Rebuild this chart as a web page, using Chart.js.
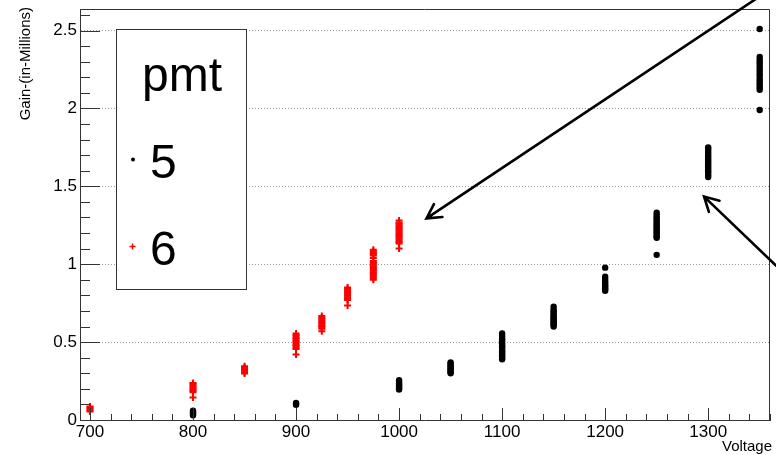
<!DOCTYPE html>
<html>
<head>
<meta charset="utf-8">
<script src="https://cdn.jsdelivr.net/npm/chart.js@4.4.0/dist/chart.umd.min.js"></script>
<style>
  html, body { margin: 0; padding: 0; background: #fff; }
  canvas { display: block; }
</style>
</head>
<body>
<canvas id="gainChart" width="776" height="455"></canvas>
<script>
// pmt 5 (black dots): one list of gains per voltage
const voltages5 = [800, 900, 1000, 1050, 1100, 1150, 1200, 1250, 1300, 1350];
const gains5 = [
    [0.030, 0.038, 0.045, 0.052, 0.060],
    [0.098, 0.104, 0.110],
    [0.195, 0.203, 0.212, 0.218, 0.226, 0.235, 0.244, 0.255],
    [0.300, 0.308, 0.316, 0.325, 0.333, 0.342, 0.352, 0.361, 0.370],
    [0.390, 0.398, 0.406, 0.415, 0.424, 0.433, 0.441, 0.450, 0.462, 0.471, 0.482, 0.493, 0.505, 0.516, 0.527, 0.540, 0.555],
    [0.600, 0.609, 0.618, 0.628, 0.637, 0.645, 0.655, 0.664, 0.675, 0.686, 0.697, 0.710, 0.728],
    [0.830, 0.838, 0.846, 0.855, 0.864, 0.873, 0.882, 0.892, 0.905, 0.920, 0.978],
    [1.060, 1.170, 1.180, 1.192, 1.203, 1.215, 1.226, 1.238, 1.250, 1.262, 1.275, 1.288, 1.300, 1.315, 1.330],
    [1.560, 1.572, 1.585, 1.597, 1.610, 1.622, 1.635, 1.648, 1.660, 1.673, 1.686, 1.700, 1.713, 1.727, 1.740, 1.750],
    [1.990, 2.120, 2.135, 2.150, 2.165, 2.180, 2.195, 2.212, 2.228, 2.245, 2.262, 2.280, 2.296, 2.312, 2.330, 2.510]
];

// pmt 6 (red crosses)
const voltages6 = [700, 800, 850, 900, 925, 950, 975, 1000];
const gains6 = [
    [0.055, 0.063, 0.071, 0.080, 0.086],
    [0.145, 0.178, 0.186, 0.195, 0.204, 0.213, 0.222, 0.231, 0.238],
    [0.298, 0.306, 0.314, 0.322, 0.330, 0.338, 0.345],
    [0.420, 0.455, 0.464, 0.473, 0.482, 0.491, 0.500, 0.509, 0.518, 0.527, 0.536, 0.545, 0.556],
    [0.570, 0.586, 0.595, 0.604, 0.613, 0.622, 0.631, 0.640, 0.650, 0.658, 0.667],
    [0.735, 0.770, 0.779, 0.788, 0.797, 0.806, 0.815, 0.824, 0.833, 0.842, 0.851],
    [0.900, 0.912, 0.922, 0.931, 0.940, 0.949, 0.958, 0.967, 0.976, 0.985, 0.994, 1.003, 1.012, 1.020, 1.040, 1.056, 1.065, 1.074, 1.083, 1.092],
    [1.100, 1.133, 1.142, 1.151, 1.160, 1.169, 1.178, 1.187, 1.196, 1.205, 1.214, 1.223, 1.232, 1.241, 1.250, 1.259, 1.268, 1.280]
];

const xTickValues = [700, 800, 900, 1000, 1100, 1200, 1300];
const yTickValues = [0, 0.5, 1, 1.5, 2, 2.5];
const legendTitle = 'pmt';
const legendLabels = ['5', '6'];

// annotation arrows, [voltage, gain] for tail and tip
const arrowTails = [[1348, 2.71], [1366, 0.99]];
const arrowTips = [[1026.6, 1.294], [1296, 1.434]];

const FONT = "'Liberation Sans', Arial, Helvetica, sans-serif";

function toPoints(volts, gains) {
    const pts = [];
    volts.forEach((v, i) => {
        gains[i].forEach(g => pts.push({ x: v, y: g }));
    });
    return pts;
}

// ROOT style: ticks inside the frame, top/right frame lines
const rootAxes = {
    id: 'rootAxes',
    afterDatasetsDraw(chart) {
        const { ctx, chartArea: a, scales: { x, y } } = chart;
        ctx.save();
        ctx.strokeStyle = '#333';
        ctx.lineWidth = 1;

        ctx.beginPath();
        ctx.moveTo(a.left, a.top + 0.5);
        ctx.lineTo(a.right - 0.5, a.top + 0.5);
        ctx.lineTo(a.right - 0.5, a.bottom);
        ctx.stroke();

        // x ticks: minor every 20, major every 100
        ctx.beginPath();
        for (let v = 700; v <= x.max; v += 20) {
            const px = Math.round(x.getPixelForValue(v)) + 0.5;
            const len = (v % 100 === 0) ? 12 : 6;
            ctx.moveTo(px, a.bottom);
            ctx.lineTo(px, a.bottom - len);
        }
        // y ticks: minor every 0.1, major every 0.5
        for (let i = 1; i * 0.1 <= y.max; i++) {
            const py = Math.round(y.getPixelForValue(i * 0.1)) + 0.5;
            const len = (i % 5 === 0) ? 20 : 10;
            ctx.moveTo(a.left, py);
            ctx.lineTo(a.left + len, py);
        }
        ctx.stroke();

        // axis titles
        ctx.fillStyle = '#000';
        ctx.font = '15px ' + FONT;
        ctx.textAlign = 'right';
        ctx.textBaseline = 'alphabetic';
        ctx.fillText('Voltage', 772, 451);

        ctx.translate(30, 7);
        ctx.rotate(-Math.PI / 2);
        ctx.fillText('Gain-(in-Millions)', 0, 0);
        ctx.restore();
    }
};

const legendBox = {
    id: 'legendBox',
    afterDatasetsDraw(chart) {
        const ctx = chart.ctx;
        ctx.save();
        ctx.fillStyle = '#fff';
        ctx.fillRect(117, 29, 130, 260);
        ctx.strokeStyle = '#333';
        ctx.lineWidth = 1;
        ctx.strokeRect(116.5, 29.5, 130, 260);

        ctx.fillStyle = '#000';
        ctx.font = '48px ' + FONT;
        ctx.textAlign = 'left';
        ctx.textBaseline = 'alphabetic';
        ctx.fillText(legendTitle, 142, 91);
        ctx.fillText(legendLabels[0], 150, 178);
        ctx.fillText(legendLabels[1], 150, 265);

        // markers
        ctx.beginPath();
        ctx.arc(133, 159.5, 2, 0, Math.PI * 2);
        ctx.fill();

        ctx.strokeStyle = '#ff0000';
        ctx.lineWidth = 1.5;
        ctx.beginPath();
        ctx.moveTo(129.5, 246.5);
        ctx.lineTo(135.5, 246.5);
        ctx.moveTo(132.5, 243.5);
        ctx.lineTo(132.5, 249.5);
        ctx.stroke();
        ctx.restore();
    }
};

const arrows = {
    id: 'arrows',
    afterDraw(chart) {
        const { ctx, scales: { x, y } } = chart;
        ctx.save();
        ctx.strokeStyle = '#000';
        ctx.lineWidth = 2.6;
        ctx.lineCap = 'round';
        arrowTails.forEach((tail, i) => {
            const x0 = x.getPixelForValue(tail[0]);
            const y0 = y.getPixelForValue(tail[1]);
            const x1 = x.getPixelForValue(arrowTips[i][0]);
            const y1 = y.getPixelForValue(arrowTips[i][1]);
            const ang = Math.atan2(y1 - y0, x1 - x0);
            const head = 16;
            const spread = 0.5;
            ctx.beginPath();
            ctx.moveTo(x0, y0);
            ctx.lineTo(x1, y1);
            ctx.moveTo(x1 - head * Math.cos(ang - spread), y1 - head * Math.sin(ang - spread));
            ctx.lineTo(x1, y1);
            ctx.lineTo(x1 - head * Math.cos(ang + spread), y1 - head * Math.sin(ang + spread));
            ctx.stroke();
        });
        ctx.restore();
    }
};

new Chart(document.getElementById('gainChart'), {
    type: 'scatter',
    data: {
        datasets: [
            {
                label: legendLabels[0],
                data: toPoints(voltages5, gains5),
                pointStyle: 'circle',
                pointRadius: 3.2,
                backgroundColor: '#000',
                borderColor: '#000',
                borderWidth: 0
            },
            {
                label: legendLabels[1],
                data: toPoints(voltages6, gains6),
                pointStyle: 'cross',
                pointRadius: 3.5,
                backgroundColor: '#ff0000',
                borderColor: '#ff0000',
                borderWidth: 2
            }
        ]
    },
    options: {
        responsive: false,
        devicePixelRatio: 1,
        animation: false,
        layout: {
            padding: { left: 0, right: 2, top: 9, bottom: 0 }
        },
        plugins: {
            legend: { display: false },
            tooltip: { enabled: false }
        },
        scales: {
            x: {
                type: 'linear',
                min: 690.3,
                max: 1360,
                afterBuildTicks: s => { s.ticks = xTickValues.map(v => ({ value: v })); },
                afterFit: s => { s.height = 35; s.paddingLeft = 0; s.paddingRight = 0; },
                ticks: {
                    callback: v => String(v),
                    color: '#000',
                    font: { family: FONT, size: 17 },
                    padding: 2,
                    maxRotation: 0
                },
                grid: { display: false, drawTicks: false },
                border: { display: true, color: '#333', width: 1 }
            },
            y: {
                min: 0,
                max: 2.638,
                afterBuildTicks: s => { s.ticks = yTickValues.map(v => ({ value: v })); },
                afterFit: s => { s.width = 80; s.paddingTop = 0; s.paddingBottom = 0; },
                ticks: {
                    callback: v => String(v),
                    color: '#000',
                    font: { family: FONT, size: 17 },
                    padding: 3
                },
                grid: {
                    display: true,
                    drawTicks: false,
                    color: '#999',
                    lineWidth: 1
                },
                border: { display: true, color: '#333', width: 1, dash: [1, 2] }
            }
        }
    },
    plugins: [rootAxes, legendBox, arrows]
});
</script>
</body>
</html>
